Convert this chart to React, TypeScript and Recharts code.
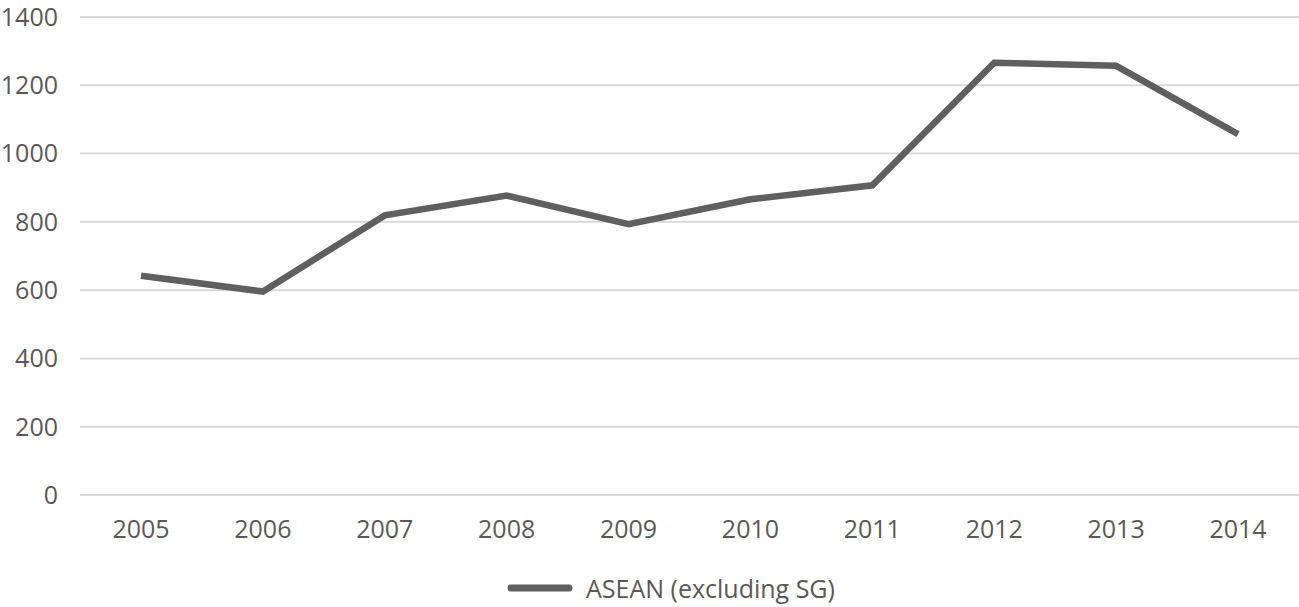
import * as React from "react"
import { LineChart, Line, XAxis, YAxis, CartesianGrid } from "recharts"

const years = ["2005", "2006", "2007", "2008", "2009", "2010", "2011", "2012", "2013", "2014"]
const asean = [642, 596, 819, 877, 793, 866, 907, 1266, 1257, 1057]
const yTicks = [0, 200, 400, 600, 800, 1000, 1200, 1400]
const seriesName = "ASEAN (excluding SG)"

const data = years.map((year, i) => ({ year, value: asean[i] }))

const font = "'Open Sans', sans-serif"
const textColor = "#595959"
const lineColor = "#5f5f5f"

export default function App() {
  return (
    <div style={{ width: 1299, height: 607, position: "relative", background: "#fff" }}>
      <style>{`body{margin:0}`}</style>
      <LineChart
        width={1299}
        height={607}
        data={data}
        margin={{ top: 17, right: 0, left: 0, bottom: 50 }}
      >
        <CartesianGrid vertical={false} stroke="#d9d9d9" strokeWidth={2} />
        <XAxis
          dataKey="year"
          axisLine={false}
          tickLine={false}
          tickMargin={19}
          height={62}
          padding={{ left: 61, right: 61 }}
          interval={0}
          tick={{ fill: textColor, fontSize: 25, fontFamily: font }}
        />
        <YAxis
          domain={[0, 1400]}
          ticks={yTicks}
          axisLine={false}
          tickLine={false}
          tickMargin={16}
          width={80}
          tick={{ fill: textColor, fontSize: 25, fontFamily: font }}
        />
        <Line
          type="linear"
          dataKey="value"
          name={seriesName}
          stroke={lineColor}
          strokeWidth={6.5}
          dot={false}
          isAnimationActive={false}
        />
      </LineChart>
      {/* legend, placed by hand like the source */}
      <div
        style={{
          position: "absolute",
          left: 504,
          top: 571,
          height: 34,
          display: "flex",
          alignItems: "center",
          fontFamily: font,
          fontSize: 25,
          color: textColor,
          whiteSpace: "nowrap"
        }}
      >
        <svg width={72} height={12} style={{ marginRight: 10 }}>
          <line x1={7} y1={6} x2={65} y2={6} stroke={lineColor} strokeWidth={7} strokeLinecap="round" />
        </svg>
        <span>{seriesName}</span>
      </div>
    </div>
  )
}
